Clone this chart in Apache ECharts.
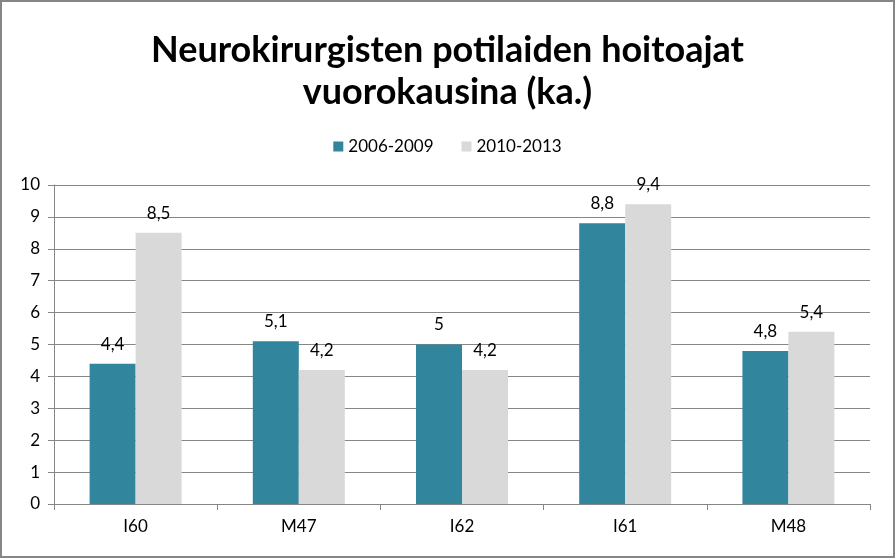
<!DOCTYPE html>
<html>
<head>
<meta charset="utf-8">
<script src="https://cdn.jsdelivr.net/npm/echarts@6/dist/echarts.min.js"></script>
<style>
html, body { margin: 0; padding: 0; background: #fff; }
#container { width: 895px; height: 558px; }
</style>
</head>
<body>
<div id="container"></div>
<script>
var categories = ['I60', 'M47', 'I62', 'I61', 'M48'];
var seriesNames = ['2006-2009', '2010-2013'];
var values2006 = [4.4, 5.1, 5, 8.8, 4.8];
var values2010 = [8.5, 4.2, 4.2, 9.4, 5.4];
var yTicks = [0, 1, 2, 3, 4, 5, 6, 7, 8, 9, 10];

var fontName = 'Lato, "Open Sans", sans-serif';

function commaLabel(p) {
	return String(p.value).replace('.', ',');
}

var myChart = echarts.init(document.getElementById('container'));
var option = {
	animation: false,
	backgroundColor: '#fff',
	title: {
		text: 'Neurokirurgisten potilaiden hoitoajat\nvuorokausina (ka.)',
		left: 'center',
		top: 24,
		textStyle: {
			fontFamily: fontName,
			fontSize: 36,
			fontWeight: 'bold',
			color: '#000',
			lineHeight: 42
		}
	},
	legend: {
		data: seriesNames,
		top: 133,
		left: 'center',
		itemWidth: 10,
		itemHeight: 10,
		itemGap: 28,
		icon: 'rect',
		textStyle: { fontFamily: fontName, fontSize: 17, color: '#000' }
	},
	grid: { left: 54, right: 25, top: 185, bottom: 54, containLabel: false },
	xAxis: {
		type: 'category',
		data: categories,
		axisLine: { lineStyle: { color: '#868686', width: 1 } },
		axisTick: { show: true, length: 6, lineStyle: { color: '#868686' } },
		axisLabel: { fontFamily: fontName, fontSize: 17, color: '#000', margin: 14 }
	},
	yAxis: {
		type: 'value',
		min: yTicks[0],
		max: yTicks[yTicks.length - 1],
		interval: 1,
		axisLine: { show: true, lineStyle: { color: '#868686', width: 1 } },
		axisTick: { show: true, length: 6, lineStyle: { color: '#868686' } },
		splitLine: { lineStyle: { color: '#868686', width: 1 } },
		axisLabel: { fontFamily: fontName, fontSize: 17, color: '#000', margin: 14 }
	},
	series: [
		{
			name: seriesNames[0],
			type: 'bar',
			data: values2006,
			barWidth: 46,
			barGap: '0%',
			itemStyle: { color: '#31859C' },
			label: { show: true, position: 'top', distance: 11, formatter: commaLabel, fontFamily: fontName, fontSize: 17, color: '#000' }
		},
		{
			name: seriesNames[1],
			type: 'bar',
			data: values2010,
			barWidth: 46,
			barGap: '0%',
			itemStyle: { color: '#D9D9D9' },
			label: { show: true, position: 'top', distance: 11, formatter: commaLabel, fontFamily: fontName, fontSize: 17, color: '#000' }
		}
	],
	graphic: [{
		type: 'rect',
		shape: { x: 1, y: 1, width: 893, height: 556 },
		style: { fill: null, stroke: '#868686', lineWidth: 2 },
		silent: true
	}]
};
myChart.setOption(option, true);
</script>
</body>
</html>
